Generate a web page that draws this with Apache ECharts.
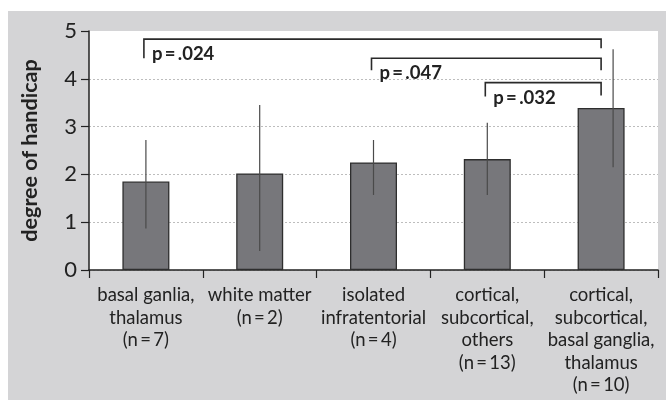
<!DOCTYPE html>
<html>
<head>
<meta charset="utf-8">
<script src="https://cdn.jsdelivr.net/npm/echarts@6/dist/echarts.min.js"></script>
<style>
  html, body { margin: 0; padding: 0; background: #fff; }
  #chart { width: 666px; height: 400px; }
</style>
</head>
<body>
<div id="chart"></div>
<script>
// Lesion location groups
const categories = [
  'basal ganlia,\nthalamus\n(n\u2009=\u20097)',
  'white matter\n(n\u2009=\u20092)',
  'isolated\ninfratentorial\n(n\u2009=\u20094)',
  'cortical,\nsubcortical,\nothers\n(n\u2009=\u200913)',
  'cortical,\nsubcortical,\nbasal ganglia,\nthalamus\n(n\u2009=\u200910)'
];
// Mean degree of handicap and error bar ends
const meanValues = [1.85, 2.02, 2.25, 2.32, 3.39];
const errLow     = [0.87, 0.40, 1.57, 1.57, 2.15];
const errHigh    = [2.72, 3.45, 2.72, 3.08, 4.62];
// Pairwise comparisons: group indices, bracket level and p-value text
const cmpFrom   = [0, 2, 3];
const cmpTo     = [4, 4, 4];
const cmpLevel  = [4.83, 4.43, 3.92];
const cmpLabels = ['p\u2009=\u2009.024', 'p\u2009=\u2009.047', 'p\u2009=\u2009.032'];
const yTicks = [0, 1, 2, 3, 4, 5];

const FONT = 'Lato, "Open Sans", sans-serif';
const INK = '#222';

// bracket leg drops in px: [left, right]
const legDrop = [[19, 9], [12, 12], [14, 13]];
// horizontal nudge of the error line for each group, px
const errShift = [0, 0, 0, 0, 12];

const chart = echarts.init(document.getElementById('chart'), null, { renderer: 'canvas' });

chart.setOption({
  animation: false,
  backgroundColor: '#d4d4d6',
  graphic: [
    { type: 'rect', shape: { x: 0, y: 0, width: 666, height: 11 }, style: { fill: '#fff' }, silent: true },
    { type: 'rect', shape: { x: 0, y: 0, width: 8, height: 400 }, style: { fill: '#fff' }, silent: true }
  ],
  grid: {
    left: 89, top: 31, right: 8, bottom: 130,
    show: true, backgroundColor: '#fff', borderWidth: 0
  },
  xAxis: {
    type: 'category',
    data: categories,
    axisLine: { lineStyle: { color: INK, width: 1.5 } },
    axisTick: { show: true, length: 8, lineStyle: { color: INK, width: 1.2 } },
    axisLabel: {
      interval: 0, margin: 14, fontFamily: FONT, fontSize: 18.5,
      lineHeight: 22.5, color: INK, align: 'center'
    }
  },
  yAxis: {
    type: 'value',
    min: yTicks[0], max: yTicks[yTicks.length - 1], interval: 1,
    name: 'degree of handicap',
    nameLocation: 'middle',
    nameGap: 48,
    nameTextStyle: { fontFamily: FONT, fontSize: 21.5, fontWeight: 'bold', color: INK },
    axisLine: { show: true, lineStyle: { color: INK, width: 1.5 } },
    axisTick: { show: true, length: 8, lineStyle: { color: INK, width: 1.2 } },
    axisLabel: { margin: 12, fontFamily: FONT, fontSize: 22, color: INK },
    splitLine: {
      show: true, showMaxLine: false,
      lineStyle: { color: '#bdbdbd', type: [2, 2], width: 1 }
    }
  },
  series: [
    {
      type: 'bar',
      data: meanValues,
      barWidth: 47,
      itemStyle: { color: '#77777b', borderColor: '#2e2e2e', borderWidth: 1.3 },
      z: 2
    },
    {
      type: 'custom',
      data: meanValues.map((v, i) => [i, errLow[i], errHigh[i]]),
      encode: { x: 0, y: [1, 2] },
      z: 3,
      renderItem(params, api) {
        const i = api.value(0);
        const a = api.coord([i, api.value(1)]);
        const b = api.coord([i, api.value(2)]);
        const dx = errShift[params.dataIndex];
        return {
          type: 'line',
          shape: { x1: a[0] + dx, y1: a[1], x2: b[0] + dx, y2: b[1] },
          style: { stroke: '#4a4a4a', lineWidth: 1.2 }
        };
      }
    },
    {
      type: 'custom',
      data: cmpFrom.map((f, k) => [f, cmpTo[k], cmpLevel[k]]),
      encode: { x: [0, 1], y: 2 },
      z: 4,
      clip: false,
      renderItem(params, api) {
        const k = params.dataIndex;
        const l = api.coord([api.value(0), api.value(2)]);
        const r = api.coord([api.value(1), api.value(2)]);
        const drop = legDrop[k];
        return {
          type: 'group',
          children: [
            {
              type: 'polyline',
              shape: { points: [[l[0] - 2, l[1] + drop[0]], [l[0] - 2, l[1]], [r[0], r[1]], [r[0], r[1] + drop[1]]] },
              style: { stroke: '#2a2a2a', lineWidth: 1.6, fill: null }
            },
            {
              type: 'text',
              style: {
                text: cmpLabels[k], x: l[0] + 6, y: l[1] + 15,
                font: 'bold 18.5px ' + FONT, fill: INK,
                align: 'left', verticalAlign: 'middle'
              }
            }
          ]
        };
      }
    }
  ]
});
</script>
</body>
</html>
